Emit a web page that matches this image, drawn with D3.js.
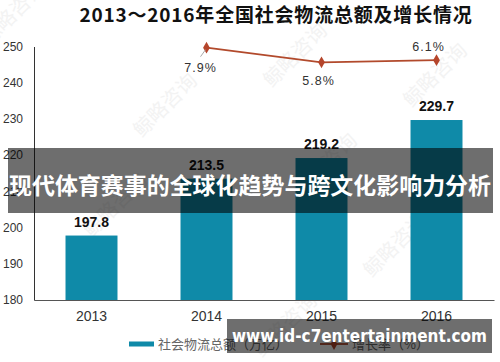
<!DOCTYPE html>
<html>
<head>
<meta charset="utf-8">
<script src="https://cdn.jsdelivr.net/npm/d3@7"></script>
<style>
  body { margin: 0; background: #fff; }
  svg { display: block; }
</style>
</head>
<body>
<svg id="chart" width="500" height="362"></svg>
<script>
const years = ['2013', '2014', '2015', '2016']
const totals = [197.8, 213.5, 219.2, 229.7]
const growthYears = ['2014', '2015', '2016']
const growth = [7.9, 5.8, 6.1]
const yTicks = [180, 190, 200, 210, 220, 230, 240, 250]
const watermarks = [[18, 18], [170, 110], [300, 60], [330, 170], [440, 80], [120, 210], [400, 250], [290, 330]]

const cjk = '"Noto Sans CJK SC", "Noto Sans", sans-serif'
const latin = '"Liberation Sans", Arial, sans-serif'

const svg = d3.select('#chart')

svg.append('rect').attr('width', 500).attr('height', 362).attr('fill', '#fff')

// faint watermark
svg.selectAll('.wm')
  .data(watermarks)
  .join('text')
  .attr('class', 'wm')
  .attr('transform', d => `translate(${d[0]},${d[1]}) rotate(-45)`)
  .attr('text-anchor', 'middle')
  .style('font-family', cjk)
  .style('font-size', '20px')
  .style('fill', '#f3f3f3')
  .text('鲸略咨询')

const x = d3.scaleBand()
  .domain(years)
  .range([34, 494])
  .paddingInner(0.548)
  .paddingOuter(0.274)

const y = d3.scaleLinear()
  .domain([180, 250])
  .range([300, 46.5])

const y2 = d3.scaleLinear()
  .domain([0, 10])
  .range([102.6, 33.1])

svg.append('text')
  .attr('x', 276)
  .attr('y', 22)
  .attr('text-anchor', 'middle')
  .style('font-family', cjk)
  .style('font-weight', 'bold')
  .style('font-size', '19px')
  .style('letter-spacing', '0.8px')
  .style('fill', '#111')
  .text('2013～2016年全国社会物流总额及增长情况')

// y axis
const yAxis = svg.append('g')
  .attr('transform', 'translate(34,0)')
  .call(d3.axisLeft(y).tickValues(yTicks).tickSize(0).tickPadding(11).tickSizeOuter(0))
yAxis.select('.domain').attr('stroke', '#333').attr('stroke-width', 1)
yAxis.selectAll('text')
  .style('font-family', latin)
  .style('font-size', '12px')
  .style('fill', '#333')

// bars
svg.selectAll('.bar')
  .data(totals)
  .join('rect')
  .attr('class', 'bar')
  .attr('x', (d, i) => x(years[i]))
  .attr('y', d => y(d))
  .attr('width', x.bandwidth())
  .attr('height', d => y(180) - y(d))
  .attr('fill', '#0f8aa8')

svg.selectAll('.val')
  .data(totals)
  .join('text')
  .attr('class', 'val')
  .attr('x', (d, i) => x(years[i]) + x.bandwidth() / 2)
  .attr('y', d => y(d) - 9)
  .attr('text-anchor', 'middle')
  .style('font-family', latin)
  .style('font-weight', 'bold')
  .style('font-size', '14px')
  .style('fill', '#111')
  .text(d => d.toFixed(1))

// x axis
const xAxis = svg.append('g')
  .attr('transform', 'translate(0,300)')
  .call(d3.axisBottom(x).tickSize(0).tickPadding(11).tickSizeOuter(0))
xAxis.select('.domain').attr('stroke', '#555').attr('stroke-width', 1.2)
xAxis.selectAll('text')
  .style('font-family', latin)
  .style('font-size', '14px')
  .style('fill', '#333')

// growth line
const cx = d => x(d) + x.bandwidth() / 2
const line = d3.line()
  .x((d, i) => cx(growthYears[i]))
  .y(d => y2(d))

svg.append('path')
  .datum(growth)
  .attr('d', line)
  .attr('fill', 'none')
  .attr('stroke', '#b24a2c')
  .attr('stroke-width', 1.8)

const diamond = d3.symbol().type(d3.symbolDiamond).size(40)
svg.selectAll('.pt')
  .data(growth)
  .join('path')
  .attr('class', 'pt')
  .attr('d', diamond)
  .attr('transform', (d, i) => `translate(${cx(growthYears[i])},${y2(d)})`)
  .attr('fill', '#b5452b')

// leader line for first label
svg.append('line')
  .attr('x1', cx(growthYears[0]) - 6).attr('y1', y2(growth[0]) + 9)
  .attr('x2', cx(growthYears[0]) - 1).attr('y2', y2(growth[0]) + 2)
  .attr('stroke', '#aaa')
  .attr('stroke-width', 1)

const labelDx = [-6, -3, -8]
const labelDy = [24, 23, -9.5]
svg.selectAll('.gl')
  .data(growth)
  .join('text')
  .attr('class', 'gl')
  .attr('x', (d, i) => cx(growthYears[i]) + labelDx[i])
  .attr('y', (d, i) => y2(d) + labelDy[i])
  .attr('text-anchor', 'middle')
  .style('font-family', latin)
  .style('font-size', '12.5px')
  .style('letter-spacing', '1px')
  .style('fill', '#333')
  .text(d => d.toFixed(1) + '%')

// legend
const legend = svg.append('g').attr('transform', 'translate(0,344)')
legend.append('rect')
  .attr('x', 129).attr('y', -2.5).attr('width', 25).attr('height', 5)
  .attr('fill', '#0f8aa8')
legend.append('text')
  .attr('x', 158).attr('y', 5)
  .style('font-family', cjk)
  .style('font-size', '13px')
  .style('fill', '#666')
  .text('社会物流总额（万亿）')
legend.append('line')
  .attr('x1', 320).attr('x2', 348).attr('y1', 0).attr('y2', 0)
  .attr('stroke', '#b24a2c').attr('stroke-width', 1.8)
legend.append('path')
  .attr('d', diamond)
  .attr('transform', 'translate(334,0)')
  .attr('fill', '#b5452b')
legend.append('text')
  .attr('x', 352).attr('y', 5)
  .style('font-family', cjk)
  .style('font-size', '13px')
  .style('fill', '#666')
  .text('增长率（%）')

// overlay banner
svg.append('rect')
  .attr('x', 8).attr('y', 148).attr('width', 485).attr('height', 65)
  .attr('fill', 'rgba(0,0,0,0.57)')
svg.append('text')
  .attr('x', 250).attr('y', 194)
  .attr('text-anchor', 'middle')
  .attr('textLength', 482)
  .attr('lengthAdjust', 'spacingAndGlyphs')
  .style('font-family', cjk)
  .style('font-weight', 'bold')
  .style('font-size', '23px')
  .style('fill', '#fff')
  .text('现代体育赛事的全球化趋势与跨文化影响力分析')

// site badge
svg.append('rect')
  .attr('x', 227).attr('y', 319).attr('width', 265).attr('height', 34)
  .attr('fill', 'rgba(0,0,0,0.57)')
svg.append('text')
  .attr('x', 359.5).attr('y', 342)
  .attr('text-anchor', 'middle')
  .attr('textLength', 255)
  .attr('lengthAdjust', 'spacingAndGlyphs')
  .style('font-family', '"DejaVu Sans", sans-serif')
  .style('font-weight', 'bold')
  .style('font-size', '17px')
  .style('fill', '#fff')
  .text('www.id-c7entertainment.com')
</script>
</body>
</html>
